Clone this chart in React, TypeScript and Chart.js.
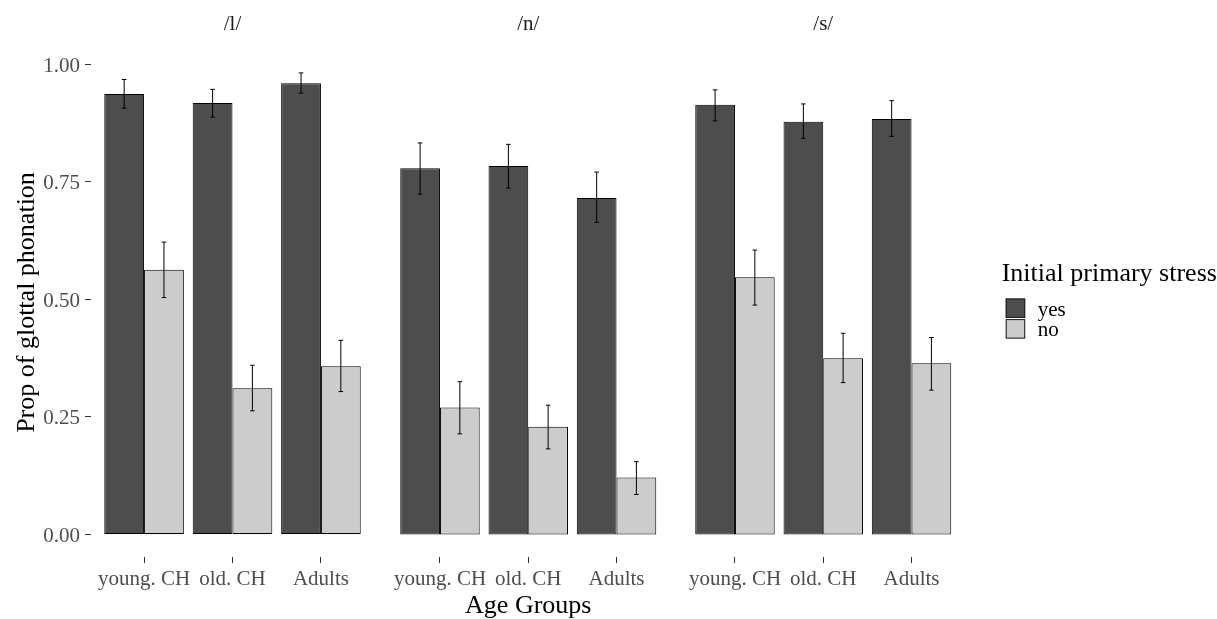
import React, { useEffect, useRef } from 'react';
import { Chart, registerables } from 'chart.js';

Chart.register(...registerables);

// ---------- data ----------
const categories = ['young. CH', 'old. CH', 'Adults'];
const facetTitles = ['/l/', '/n/', '/s/'];
const seriesLabels = ['yes', 'no'];
const yTicks = [0, 0.25, 0.5, 0.75, 1.0];

const yesMean_l = [0.937, 0.918, 0.960];
const yesLow_l = [0.907, 0.888, 0.939];
const yesHigh_l = [0.968, 0.947, 0.982];
const noMean_l = [0.563, 0.311, 0.358];
const noLow_l = [0.504, 0.263, 0.304];
const noHigh_l = [0.622, 0.360, 0.413];

const yesMean_n = [0.779, 0.784, 0.716];
const yesLow_n = [0.724, 0.737, 0.664];
const yesHigh_n = [0.833, 0.830, 0.771];
const noMean_n = [0.270, 0.229, 0.121];
const noLow_n = [0.214, 0.182, 0.085];
const noHigh_n = [0.325, 0.275, 0.155];

const yesMean_s = [0.914, 0.878, 0.884];
const yesLow_s = [0.880, 0.843, 0.847];
const yesHigh_s = [0.946, 0.916, 0.923];
const noMean_s = [0.547, 0.375, 0.364];
const noLow_s = [0.488, 0.323, 0.307];
const noHigh_s = [0.605, 0.428, 0.419];

const yTitle = 'Prop of glottal phonation';
const xTitle = 'Age Groups';
const legendTitle = 'Initial primary stress';

// ---------- style ----------
const FONT = "'Liberation Serif', 'Times New Roman', serif";
const W = 1217;
const H = 619;
const DARK = '#4d4d4d';
const LIGHT = '#cccccc';
const EDGE = '#000000';
const TICK_TEXT = '#4d4d4d';

const panelData = [
  { yes: yesMean_l, yesLo: yesLow_l, yesHi: yesHigh_l, no: noMean_l, noLo: noLow_l, noHi: noHigh_l },
  { yes: yesMean_n, yesLo: yesLow_n, yesHi: yesHigh_n, no: noMean_n, noLo: noLow_n, noHi: noHigh_n },
  { yes: yesMean_s, yesLo: yesLow_s, yesHi: yesHigh_s, no: noMean_s, noLo: noLow_s, noHi: noHigh_s },
];

const panelLayout = [
  { left: 0, width: 380, padL: 0, padR: 6, showY: true, showXTitle: false, showLegend: false },
  { left: 380, width: 296, padL: 7, padR: 6.5, showY: false, showXTitle: true, showLegend: false },
  { left: 676, width: 541, padL: 6, padR: 252.5, showY: false, showXTitle: false, showLegend: true },
];

const errorBarPlugin = {
  id: 'errorBars',
  afterDatasetsDraw(chart: any) {
    const ctx = chart.ctx;
    const yScale = chart.scales.y;
    ctx.save();
    ctx.strokeStyle = '#000';
    ctx.lineWidth = 1;
    chart.data.datasets.forEach((ds: any, di: number) => {
      const meta = chart.getDatasetMeta(di);
      meta.data.forEach((bar: any, i: number) => {
        const x = bar.x;
        const yl = yScale.getPixelForValue(ds.errLow[i]);
        const yh = yScale.getPixelForValue(ds.errHigh[i]);
        const cap = 2.3;
        ctx.beginPath();
        ctx.moveTo(x, yl);
        ctx.lineTo(x, yh);
        ctx.moveTo(x - cap, yl);
        ctx.lineTo(x + cap, yl);
        ctx.moveTo(x - cap, yh);
        ctx.lineTo(x + cap, yh);
        ctx.stroke();
      });
    });
    ctx.restore();
  },
};

const legendPlugin = {
  id: 'facetLegend',
  afterDraw(chart: any, _args: any, opts: any) {
    if (!opts || !opts.show) return;
    const ctx = chart.ctx;
    ctx.save();
    ctx.textAlign = 'left';
    ctx.textBaseline = 'alphabetic';
    ctx.fillStyle = '#000';
    ctx.font = `26px ${FONT}`;
    ctx.fillText(legendTitle, opts.x, opts.titleBaseline);
    chart.data.datasets.forEach((ds: any, i: number) => {
      const top = opts.keyTop + i * opts.keyStep;
      ctx.fillStyle = ds.backgroundColor;
      ctx.fillRect(opts.x + 4, top, opts.keySize, opts.keySize);
      ctx.strokeStyle = '#1a1a1a';
      ctx.lineWidth = 1;
      ctx.strokeRect(opts.x + 4.5, top + 0.5, opts.keySize - 1, opts.keySize - 1);
      ctx.fillStyle = '#000';
      ctx.font = `21px ${FONT}`;
      ctx.fillText(ds.label, opts.x + 36, top + 17.3);
    });
    ctx.restore();
  },
};

function makeConfig(k: number): any {
  const d = panelData[k];
  const L = panelLayout[k];
  const mk = (vals: number[]) => vals.map((v, i) => ({ x: i, y: v }));
  return {
    type: 'bar',
    data: {
      datasets: [
        {
          label: seriesLabels[0],
          data: mk(d.yes),
          errLow: d.yesLo,
          errHigh: d.yesHi,
          backgroundColor: DARK,
          borderColor: EDGE,
          borderWidth: 1,
          borderSkipped: false,
          categoryPercentage: 0.9,
          barPercentage: 1.0,
        },
        {
          label: seriesLabels[1],
          data: mk(d.no),
          errLow: d.noLo,
          errHigh: d.noHi,
          backgroundColor: LIGHT,
          borderColor: EDGE,
          borderWidth: 1,
          borderSkipped: false,
          categoryPercentage: 0.9,
          barPercentage: 1.0,
        },
      ],
    },
    options: {
      responsive: false,
      maintainAspectRatio: false,
      animation: false,
      devicePixelRatio: 1,
      layout: { padding: { left: L.padL, right: L.padR, top: 0, bottom: 0 } },
      plugins: {
        legend: { display: false },
        tooltip: { enabled: false },
        title: {
          display: true,
          text: facetTitles[k],
          fullSize: false,
          color: '#1a1a1a',
          font: { family: FONT, size: 21, weight: 'normal', lineHeight: 1.2 },
          padding: { top: 12, bottom: 10.8 },
        },
        facetLegend: {
          show: L.showLegend,
          x: 325.7,
          titleBaseline: 281,
          keyTop: 298.5,
          keyStep: 20.6,
          keySize: 19.5,
        },
      },
      scales: {
        x: {
          type: 'linear',
          min: -0.6,
          max: 2.6,
          offset: false,
          afterBuildTicks: (s: any) => {
            s.ticks = categories.map((_, i) => ({ value: i }));
          },
          afterFit: (s: any) => {
            s.height = 62;
          },
          grid: {
            display: true,
            drawOnChartArea: false,
            drawTicks: true,
            tickLength: 6,
            tickColor: '#333333',
            offset: false,
          },
          border: { display: false },
          ticks: {
            autoSkip: false,
            maxRotation: 0,
            minRotation: 0,
            padding: 4,
            color: TICK_TEXT,
            font: { family: FONT, size: 21, lineHeight: 1.2 },
            callback: (v: any) => categories[v as number] ?? '',
          },
          title: {
            display: L.showXTitle,
            text: xTitle,
            color: '#000',
            font: { family: FONT, size: 26, lineHeight: 0.95 },
            padding: { top: 0, bottom: 0 },
          },
        },
        y: {
          type: 'linear',
          display: L.showY,
          min: -0.048,
          max: 1.035,
          afterBuildTicks: (s: any) => {
            s.ticks = yTicks.map((v) => ({ value: v }));
          },
          afterFit: (s: any) => {
            if (L.showY) s.width = 91;
          },
          grid: {
            display: true,
            drawOnChartArea: false,
            drawTicks: true,
            tickLength: 6,
            tickColor: '#333333',
          },
          border: { display: false },
          ticks: {
            padding: 5,
            labelOffset: 2,
            color: TICK_TEXT,
            font: { family: FONT, size: 21, lineHeight: 1.2 },
            callback: (v: any) => Number(v).toFixed(2),
          },
          title: {
            display: true,
            text: yTitle,
            color: '#000',
            font: { family: FONT, size: 26, lineHeight: 1.2 },
            padding: { top: 12, bottom: 0 },
          },
        },
      },
    },
    plugins: [errorBarPlugin, legendPlugin],
  };
}

export default function App() {
  const r0 = useRef<HTMLCanvasElement>(null);
  const r1 = useRef<HTMLCanvasElement>(null);
  const r2 = useRef<HTMLCanvasElement>(null);
  const refs = [r0, r1, r2];

  useEffect(() => {
    const charts = refs.map((r, k) => new Chart(r.current as HTMLCanvasElement, makeConfig(k)));
    return () => charts.forEach((c) => c.destroy());
  }, []);

  return (
    <div style={{ position: 'absolute', left: 0, top: 0, width: W, height: H, background: '#ffffff', overflow: 'hidden' }}>
      {panelLayout.map((L, k) => (
        <canvas
          key={facetTitles[k]}
          ref={refs[k]}
          width={L.width}
          height={H}
          style={{ position: 'absolute', left: L.left, top: 0, width: L.width, height: H }}
        />
      ))}
    </div>
  );
}
